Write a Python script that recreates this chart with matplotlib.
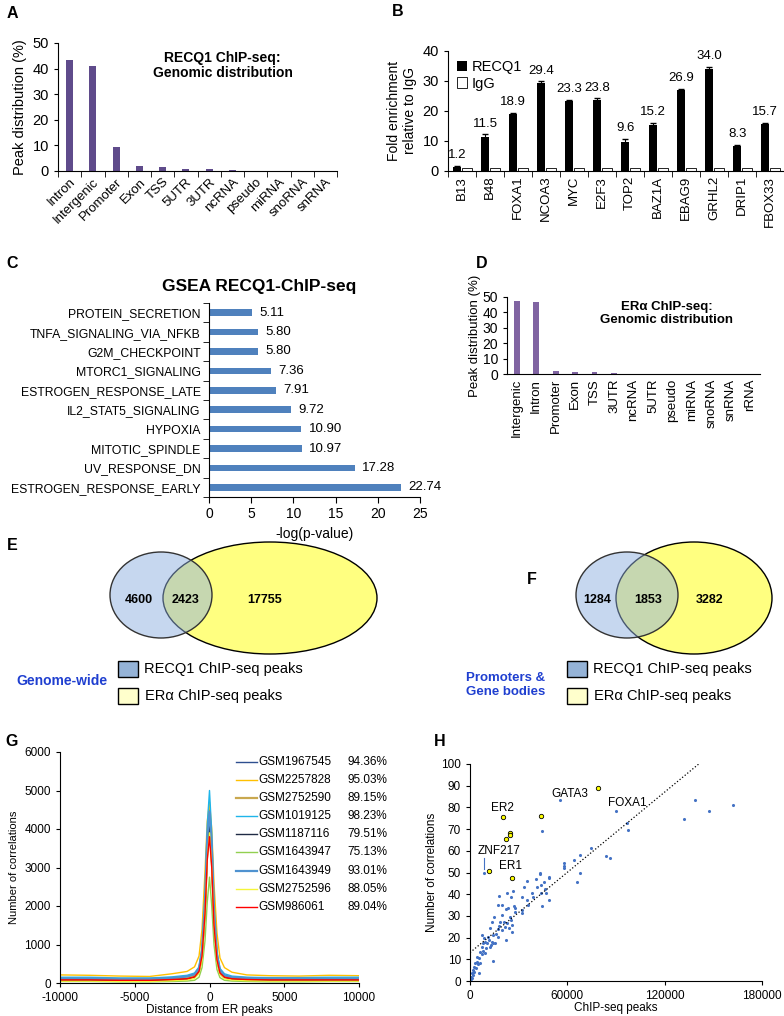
import matplotlib
matplotlib.use('Agg')
import matplotlib.pyplot as plt
from matplotlib.patches import Ellipse, Rectangle
import numpy as np

plt.rcParams['font.family'] = ['Liberation Sans', 'DejaVu Sans']
plt.rcParams['axes.unicode_minus'] = False
NARROW = ['Liberation Sans Narrow', 'Liberation Sans', 'DejaVu Sans']

W, H = 784, 1016

# ---------------- data ----------------
# A: RECQ1 genomic distribution
a_cats = ['Intron', 'Intergenic', 'Promoter', 'Exon', 'TSS', '5UTR', '3UTR',
          'ncRNA', 'pseudo', 'miRNA', 'snoRNA', 'snRNA']
a_vals = [43.5, 41.2, 9.3, 2.0, 1.5, 0.9, 0.7, 0.4, 0.1, 0.05, 0.05, 0.05]

# B: ChIP-qPCR fold enrichment
b_genes = ['B13', 'B48', 'FOXA1', 'NCOA3', 'MYC', 'E2F3', 'TOP2', 'BAZ1A',
           'EBAG9', 'GRHL2', 'DRIP1', 'FBOX33']
b_recq1 = [1.2, 11.5, 18.9, 29.4, 23.3, 23.8, 9.6, 15.2, 26.9, 34.0, 8.3, 15.7]
b_err = [0.4, 0.7, 0.4, 0.5, 0.4, 0.4, 1.0, 0.8, 0.5, 0.6, 0.3, 0.4]
b_igg = [1.0] * 12

# C: GSEA
c_terms = ['PROTEIN_SECRETION', 'TNFA_SIGNALING_VIA_NFKB', 'G2M_CHECKPOINT',
           'MTORC1_SIGNALING', 'ESTROGEN_RESPONSE_LATE', 'IL2_STAT5_SIGNALING',
           'HYPOXIA', 'MITOTIC_SPINDLE', 'UV_RESPONSE_DN', 'ESTROGEN_RESPONSE_EARLY']
c_vals = [5.11, 5.80, 5.80, 7.36, 7.91, 9.72, 10.90, 10.97, 17.28, 22.74]

# D: ERa genomic distribution
d_cats = ['Intergenic', 'Intron', 'Promoter', 'Exon', 'TSS', '3UTR', 'ncRNA',
          '5UTR', 'pseudo', 'miRNA', 'snoRNA', 'snRNA', 'rRNA']
d_vals = [47.2, 46.5, 2.0, 1.2, 1.0, 0.6, 0.3, 0.1, 0.05, 0.03, 0.03, 0.02, 0.02]

# E / F: overlaps (RECQ1 only, both, ERa only)
e_counts = [4600, 2423, 17755]
f_counts = [1284, 1853, 3282]

# G: correlation profiles around ER peaks
g_x = [-10000, -8000, -6000, -4000, -2500, -1500, -1000, -700, -500, -300, -150,
       0, 150, 300, 500, 700, 1000, 1500, 2500, 4000, 6000, 8000, 10000]
g_names = ['GSM1967545', 'GSM2257828', 'GSM2752590', 'GSM1019125', 'GSM1187116',
           'GSM1643947', 'GSM1643949', 'GSM2752596', 'GSM986061']
g_pct = ['94.36%', '95.03%', '89.15%', '98.23%', '79.51%', '75.13%', '93.01%',
         '88.05%', '89.04%']
g_colors = ['#2e4f8f', '#ffc000', '#c9a84f', '#1fb5ea', '#1f2a44', '#92d050',
            '#4f92d0', '#f5f53a', '#ff0000']
g_lw = [1.0, 1.0, 1.6, 1.0, 1.0, 1.0, 1.6, 1.0, 1.0]
g_2257828 = [210, 200, 180, 170, 240, 300, 420, 700, 1400, 2900, 4200, 4700, 4000,
             2600, 1300, 650, 400, 280, 210, 190, 180, 200, 190]
g_1967545 = [100, 100, 90, 90, 110, 140, 200, 350, 800, 2000, 3600, 4550, 3500,
             1800, 700, 300, 180, 130, 110, 100, 100, 100, 100]
g_2752590 = [90, 90, 80, 80, 100, 130, 180, 320, 750, 1900, 3500, 4300, 3300,
             1700, 650, 280, 160, 120, 100, 90, 90, 90, 90]
g_1019125 = [150, 150, 130, 130, 160, 200, 260, 420, 900, 2300, 4100, 5000, 3900,
             2000, 800, 380, 240, 180, 150, 140, 140, 150, 150]
g_1187116 = [70, 70, 60, 60, 80, 100, 150, 280, 650, 1800, 3300, 4100, 3100,
             1600, 600, 250, 140, 100, 80, 70, 70, 70, 70]
g_1643947 = [40, 40, 30, 30, 40, 50, 70, 150, 400, 1100, 2100, 2750, 2000,
             1000, 350, 140, 70, 50, 40, 30, 30, 40, 40]
g_1643949 = [120, 120, 110, 110, 130, 170, 230, 380, 850, 2100, 3800, 4450, 3600,
             1900, 750, 330, 200, 150, 130, 120, 120, 120, 120]
g_2752596 = [50, 50, 40, 40, 60, 80, 120, 250, 600, 1700, 3200, 3900, 3000,
             1500, 550, 220, 110, 80, 60, 50, 50, 50, 50]
g_986061 = [80, 80, 70, 70, 90, 110, 160, 300, 700, 1800, 3200, 3800, 3000,
            1500, 600, 260, 150, 110, 90, 80, 80, 80, 80]
g_series = [g_1967545, g_2257828, g_2752590, g_1019125, g_1187116, g_1643947,
            g_1643949, g_2752596, g_986061]

# H: correlations vs ChIP-seq peaks
h_x = [8846, 44600, 55500, 89700, 96900, 97300, 131900, 138800, 147100, 162100,
       74300, 68100, 64000, 83900, 86000, 58000, 58200, 58200, 67500, 66000,
       43400, 43400, 40500, 48500, 49000, 45900, 44000, 46100, 41300, 43800,
       46700, 38100, 38900, 35200, 33300, 32100, 35000, 36000, 44600, 49000,
       32300, 31900, 26300, 22600, 17700, 25500, 19500, 17100, 22200, 23700,
       26900, 27800, 27600, 19500, 24700, 14600, 13400, 18500, 20800, 23000,
       25100, 25700, 17900, 21600, 24100, 17100, 19500, 12300, 25700, 22000,
       17100, 15800, 14000, 10900, 11700, 13400, 15400, 12800, 9300, 8200,
       7200, 9900, 8200, 6200, 9300, 7200, 14400, 4500, 5600, 4100,
       3100, 4700, 6400, 2500, 3700, 2100, 5600, 1000, 1600, 600,
       1000, 400, 200, 2700, 7600, 8400, 10700, 12500, 14000]
h_y = [49.6, 69.1, 83.3, 78.5, 73.0, 69.6, 74.7, 83.6, 78.5, 81.0,
       61.1, 57.9, 55.8, 57.8, 56.8, 54.2, 53.2, 52.2, 49.9, 45.6,
       49.9, 49.3, 47.2, 47.5, 48.1, 45.6, 44.1, 42.6, 43.2, 40.7,
       40.4, 40.4, 38.9, 46.1, 43.5, 38.9, 37.3, 34.9, 34.7, 37.3,
       32.7, 31.2, 41.5, 40.4, 39.2, 38.9, 35.0, 34.9, 33.3, 33.5,
       34.6, 33.5, 32.0, 30.4, 29.6, 29.6, 27.2, 27.2, 27.3, 26.9,
       28.1, 25.8, 25.3, 25.0, 24.3, 23.8, 23.5, 24.3, 22.4, 18.9,
       20.4, 21.5, 21.2, 20.1, 18.9, 18.1, 17.4, 16.6, 18.1, 17.4,
       15.8, 15.1, 14.0, 13.5, 12.8, 12.3, 9.2, 11.2, 10.4, 8.9,
       8.1, 7.8, 8.1, 6.6, 5.8, 5.1, 3.5, 3.5, 2.8, 2.0,
       1.2, 0.8, 0.3, 4.3, 21.2, 19.7, 17.7, 15.8, 17.4]
hl_x = [11900, 20400, 24700, 24700, 22200, 26100, 44000, 78600]
hl_y = [50.8, 75.6, 68.0, 67.3, 65.3, 47.5, 75.9, 89.1]
trend_x = [0, 141000]
trend_y = [13.1, 100]
h_labels = ['ER2', 'GATA3', 'FOXA1', 'ZNF217', 'ER1']
h_lab_x = [20000, 61700, 97100, 18100, 25100]
h_lab_y = [79.6, 86.3, 81.9, 60.1, 53.0]


def px(x0, y0, x1, y1):
    return [x0 / W, 1 - y1 / H, (x1 - x0) / W, (y1 - y0) / H]


def clean(ax):
    ax.spines['top'].set_visible(False)
    ax.spines['right'].set_visible(False)


def between_ticks(ax, n):
    ax.set_xticks(np.arange(n))
    ax.set_xticks(np.arange(n + 1) - 0.5, minor=True)
    ax.tick_params(axis='x', which='major', length=0)
    ax.tick_params(axis='x', which='minor', length=4, direction='out')


fig = plt.figure(figsize=(W / 100, H / 100), dpi=100)

# ---------- A ----------
axA = fig.add_axes(px(58, 43, 337, 171))
xa = np.arange(len(a_cats))
axA.bar(xa, a_vals, width=0.3, color='#5f4b8b')
axA.set_xlim(-0.5, len(a_cats) - 0.5)
axA.set_ylim(0, 50)
axA.set_yticks([0, 10, 20, 30, 40, 50])
between_ticks(axA, len(a_cats))
axA.set_xticklabels(a_cats, rotation=45, ha='right', rotation_mode='anchor', fontsize=9.5)
axA.tick_params(axis='y', labelsize=10.5, length=3)
axA.set_ylabel('Peak distribution (%)', fontsize=10.5)
axA.text(0.59, 0.94, 'RECQ1 ChIP-seq:\nGenomic distribution', transform=axA.transAxes,
         ha='center', va='top', fontsize=10, fontweight='bold', linespacing=1.1)
clean(axA)

# ---------- B ----------
axB = fig.add_axes(px(448, 51, 784, 171))
xb = np.arange(len(b_genes))
axB.bar(xb - 0.17, b_recq1, width=0.3, color='black', yerr=b_err,
        error_kw=dict(ecolor='black', capsize=2, lw=0.8), label='RECQ1')
axB.bar(xb + 0.17, b_igg, width=0.34, color='white', edgecolor='black', lw=0.6,
        label='IgG')
for xi, v, e in zip(xb, b_recq1, b_err):
    axB.text(xi - 0.17, v + e + 1.6, f'{v:.1f}', ha='center', va='bottom', fontsize=9.5)
axB.set_xlim(-0.5, len(b_genes) - 0.5)
axB.set_ylim(0, 40)
axB.set_yticks([0, 10, 20, 30, 40])
between_ticks(axB, len(b_genes))
axB.set_xticklabels(b_genes, rotation=90, fontsize=9.5)
axB.tick_params(axis='y', labelsize=10.5, length=3)
axB.set_ylabel('Fold enrichment\nrelative to IgG', fontsize=10, linespacing=1.2)
axB.legend(loc='upper left', frameon=False, fontsize=10.5, handlelength=0.7,
           handleheight=0.7, handletextpad=0.3, labelspacing=0.2,
           borderaxespad=0.2)
clean(axB)

# ---------- C ----------
axC = fig.add_axes(px(209, 303, 420, 497))
yc = np.arange(len(c_terms))
axC.barh(yc, c_vals, height=0.35, color='#4f81bd')
for yi, v in zip(yc, c_vals):
    axC.text(v + 0.9, yi, f'{v:.2f}', va='center', ha='left', fontsize=9.5,
             family=NARROW)
axC.set_ylim(len(c_terms) - 0.5, -0.5)
axC.set_xlim(0, 25)
axC.set_yticks(yc)
axC.set_yticklabels(c_terms, fontsize=8.8, family=NARROW)
axC.set_yticks(np.arange(len(c_terms) + 1) - 0.5, minor=True)
axC.tick_params(axis='y', which='major', length=0, pad=6)
axC.tick_params(axis='y', which='minor', length=4)
axC.set_xticks([0, 5, 10, 15, 20, 25])
axC.tick_params(axis='x', labelsize=10, length=4)
for lab in axC.get_xticklabels():
    lab.set_family(NARROW)
axC.set_xlabel('-log(p-value)', fontsize=10, family=NARROW, labelpad=4)
axC.text(0.24, 1.085, 'GSEA RECQ1-ChIP-seq', transform=axC.transAxes, ha='center',
         va='center', fontsize=12.5, fontweight='bold')
clean(axC)

# ---------- D ----------
axD = fig.add_axes(px(507, 297, 760, 374))
xd = np.arange(len(d_cats))
axD.bar(xd, d_vals, width=0.3, color='#8064a2')
axD.set_xlim(-0.5, len(d_cats) - 0.5)
axD.set_ylim(0, 50)
axD.set_yticks([0, 10, 20, 30, 40, 50])
axD.set_xticks(xd)
axD.tick_params(axis='x', length=0)
axD.set_xticklabels(d_cats, rotation=90, fontsize=9.5)
axD.tick_params(axis='y', labelsize=10, length=3)
axD.set_ylabel('Peak distribution (%)', fontsize=9.5, labelpad=1)
axD.text(0.63, 0.95, 'ER\u03b1 ChIP-seq:\nGenomic distribution', transform=axD.transAxes,
         ha='center', va='top', fontsize=9.5, fontweight='bold', linespacing=1.1)
clean(axD)

# ---------- G ----------
axG = fig.add_axes(px(60, 752, 359, 983))
for ys, c, lw in zip(g_series, g_colors, g_lw):
    axG.plot(g_x, ys, color=c, lw=lw)
axG.set_xlim(-10000, 10000)
axG.set_ylim(0, 6000)
axG.set_xticks([-10000, -5000, 0, 5000, 10000])
axG.set_yticks(range(0, 6001, 1000))
axG.tick_params(labelsize=8.5, length=3)
axG.set_xlabel('Distance from ER peaks', fontsize=8.5, labelpad=0)
axG.set_ylabel('Number of correlations', fontsize=8, labelpad=4)
for i, (nm, pc, c, lw) in enumerate(zip(g_names, g_pct, g_colors, g_lw)):
    yy = 0.955 - i * 0.078
    axG.plot([0.59, 0.66], [yy, yy], color=c, lw=lw, transform=axG.transAxes)
    axG.text(0.665, yy, nm, transform=axG.transAxes, va='center', fontsize=8.5)
    axG.text(0.96, yy, pc, transform=axG.transAxes, va='center', fontsize=8.5)
clean(axG)

# ---------- H ----------
axH = fig.add_axes(px(470, 764, 762, 981))
axH.scatter(h_x, h_y, s=5, color='#4472c4', lw=0)
axH.scatter(hl_x, hl_y, s=10, color='#ffff00', edgecolor='black', lw=0.6, zorder=3)
axH.plot(trend_x, trend_y, color='black', ls=':', lw=0.9)
for t, lx, ly in zip(h_labels, h_lab_x, h_lab_y):
    axH.text(lx, ly, t, ha='center', va='center', fontsize=8.5)
axH.plot([8600, 8600], [56.5, 51.5], color='#4472c4', lw=0.8)
axH.set_xlim(0, 180000)
axH.set_ylim(0, 100)
axH.set_xticks([0, 60000, 120000, 180000])
axH.set_yticks(range(0, 101, 10))
axH.tick_params(labelsize=8.5, length=3)
axH.set_xlabel('ChIP-seq peaks', fontsize=8.5, labelpad=0)
axH.set_ylabel('Number of correlations', fontsize=8.5, labelpad=2)
clean(axH)

# ---------- overlay: panel letters, Venn diagrams, legends ----------
ov = fig.add_axes([0, 0, 1, 1])
ov.set_xlim(0, W)
ov.set_ylim(H, 0)
ov.axis('off')

for letter, lx, ly in [('A', 12, 13), ('B', 398, 11), ('C', 12, 263), ('D', 482, 263),
                       ('E', 12, 546), ('F', 532, 579), ('G', 12, 742), ('H', 440, 742)]:
    ov.text(lx, ly, letter, fontsize=11.5, fontweight='bold', ha='center', va='center')


def venn(cx_b, rx_b, cx_y, rx_y, counts, text_x):
    ov.add_patch(Ellipse((cx_y, 598), 2 * rx_y, 112, facecolor='#ffff80',
                         edgecolor='black', lw=1.0))
    ov.add_patch(Ellipse((cx_b, 595), 2 * rx_b, 86, facecolor='#8fb0e0', alpha=0.5,
                         edgecolor='none'))
    ov.add_patch(Ellipse((cx_b, 595), 2 * rx_b, 86, facecolor='none',
                         edgecolor='#333333', lw=1.0))
    for n, tx in zip(counts, text_x):
        ov.text(tx, 600, str(n), ha='center', va='center', fontsize=9, fontweight='bold')


def venn_legend(x0):
    ov.add_patch(Rectangle((x0, 661), 20, 16, facecolor='#95b3d7', edgecolor='black', lw=1.0))
    ov.add_patch(Rectangle((x0, 688), 20, 16, facecolor='#ffffcc', edgecolor='black', lw=1.0))
    ov.text(x0 + 26, 669, 'RECQ1 ChIP-seq peaks', va='center', fontsize=10.5)
    ov.text(x0 + 27, 696, 'ER\u03b1 ChIP-seq peaks', va='center', fontsize=10.5)


venn(161, 51, 270, 107, e_counts, [139, 186, 265])
venn_legend(118)
ov.text(62, 681, 'Genome-wide', color='#1f3fd0', fontsize=10, fontweight='bold',
        ha='center', va='center')

venn(627, 51, 694, 78, f_counts, [597, 648, 710])
venn_legend(567)
ov.text(506, 685, 'Promoters &\nGene bodies', color='#1f3fd0', fontsize=9.5,
        fontweight='bold', ha='center', va='center', linespacing=1.3)

fig.savefig('out.png', dpi=100)
